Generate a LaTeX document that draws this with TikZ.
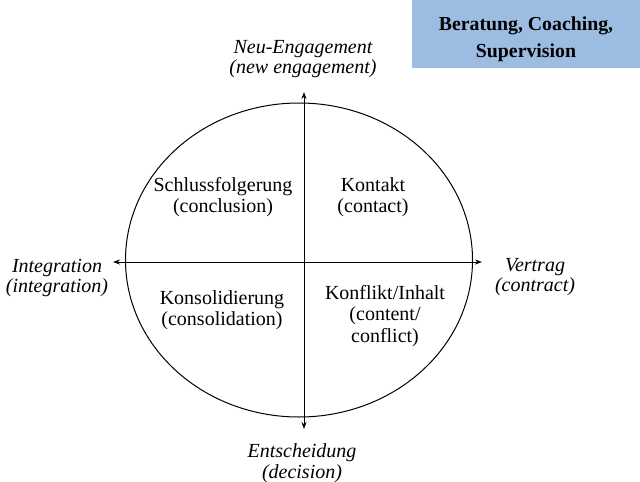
\documentclass[tikz,border=0pt]{standalone}
\usepackage{fontspec}
\setmainfont{Liberation Serif}
\usetikzlibrary{arrows.meta}
\def\phaseellipse{(299,260) ellipse (173.5pt and 157pt)}
\def\titlerect{(412,0) rectangle (640,68)}
\definecolor{box blue}{RGB}{156,188,226}
\tikzset{
  axis/.style={draw=black, line width=0.9pt, {Stealth[length=7pt,width=5pt]}-{Stealth[length=7pt,width=5pt]}},
  outline/.style={draw=black, line width=1pt},
  phase/.style={align=center, font=\fontsize{20}{21.5}\selectfont},
  pole/.style={align=center, font=\fontsize{20}{20.5}\selectfont\itshape},
  titletext/.style={align=center, font=\fontsize{19.8}{27}\selectfont\bfseries}
}
\begin{document}
\begin{tikzpicture}[x=1pt, y=-1pt]
  \useasboundingbox (0,0) rectangle (640,482);
  \draw[outline] \phaseellipse;
  % axis ends
  \coordinate (top) at (304,92);
  \coordinate (bottom) at (304,429);
  \coordinate (left) at (113,262);
  \coordinate (right) at (482,262);
  \draw[axis] (bottom) -- (top);
  \draw[axis] (left) -- (right);
  % quadrants
  \node[phase] (conclusion) at (223,197) {Schlussfolgerung\\(conclusion)};
  \node[phase] (contact) at (373,197) {Kontakt\\(contact)};
  \node[phase] (consolidation) at (222,310) {Konsolidierung\\(consolidation)};
  \node[phase] (conflict) at (385,316) {Konflikt/Inhalt\\(content/\\conflict)};
  % poles
  \node[pole] (engagement) at (303,59) {Neu-Engagement\\(new engagement)};
  \node[pole] (integration) at (57,278) {Integration\\(integration)};
  \node[pole] (contract) at (535,277) {Vertrag\\(contract)};
  \node[pole] (decision) at (302,463) {Entscheidung\\(decision)};
  \fill[box blue] \titlerect;
  \node[titletext] (title) at (526,39) {Beratung, Coaching,\\Supervision};
\end{tikzpicture}
\end{document}
